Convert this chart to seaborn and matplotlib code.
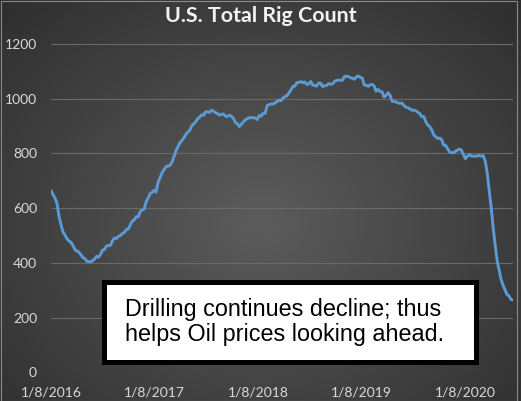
import numpy as np
import pandas as pd
import matplotlib
matplotlib.use("Agg")
import matplotlib.pyplot as plt
import seaborn as sns
from matplotlib.patches import Rectangle

# ---------------- data (weekly U.S. rig count) ----------------
title = "U.S. Total Rig Count"
start_date = "2016-01-08"
rigs_2016 = [664, 650, 637, 619, 571, 541, 514, 502, 489, 480, 476, 464,
             450, 443, 440, 431, 420, 416, 406, 404, 404, 408, 414, 424, 421,
             431, 447, 449, 462, 463, 464, 481, 491, 489, 497, 500, 508, 511, 522,
             524, 539, 553, 557, 569, 568, 588, 593, 597, 624, 637, 653, 658]
rigs_2017 = [665, 659, 694, 712, 729, 741, 751, 754, 756, 768, 789, 809, 824,
             839, 847, 857, 870, 877, 885, 901, 908, 916, 927, 933, 941, 940,
             952, 952, 950, 958, 954, 949, 946, 940, 943, 944, 936, 935, 940,
             936, 928, 913, 909, 898, 907, 915, 923, 927, 931, 930, 931, 929]
rigs_2018 = [924, 939, 936, 947, 946, 975, 978, 980, 981, 984, 990, 995, 993,
             1003, 1008, 1011, 1021, 1032, 1045, 1046, 1059, 1060, 1062, 1059, 1061, 1052,
             1054, 1063, 1050, 1048, 1046, 1057, 1057, 1044, 1048, 1048, 1055, 1053, 1054,
             1063, 1067, 1068, 1067, 1068, 1081, 1082, 1081, 1077, 1075, 1071, 1080, 1083]
rigs_2019 = [1078, 1075, 1050, 1049, 1045, 1051, 1052, 1047, 1027, 1034, 1026, 1025, 1006,
             1012, 1022, 1012, 991, 990, 988, 985, 983, 984, 975, 969, 967, 963,
             958, 958, 956, 950, 946, 934, 935, 916, 904, 898, 886, 868, 861,
             855, 856, 851, 830, 830, 817, 806, 803, 802, 808, 812, 816, 812]
rigs_2020 = [796, 781, 790, 796, 790, 790, 790, 790, 793, 790, 792, 772, 728,
             664, 602, 529, 465, 408, 374, 339, 318, 301, 284, 279, 266, 265]

y_ticks = [0, 200, 400, 600, 800, 1000, 1200]
x_tick_dates = ["2016-01-08", "2017-01-08", "2018-01-08", "2019-01-08", "2020-01-08"]
x_tick_labels = ["1/8/2016", "1/8/2017", "1/8/2018", "1/8/2019", "1/8/2020"]
note_lines = ["Drilling continues decline; thus", "helps Oil prices looking ahead."]

values = rigs_2016 + rigs_2017 + rigs_2018 + rigs_2019 + rigs_2020
dates = pd.date_range(start_date, periods=len(values), freq="7D")
df = pd.DataFrame({"date": dates, "rigs": values})

# ---------------- figure ----------------
sns.set_theme(style="dark")
plt.rcParams["font.family"] = ["Lato", "DejaVu Sans"]

W, H = 521, 401
fig = plt.figure(figsize=(W / 100, H / 100), dpi=100)

# radial gradient background (pixel coordinates)
bg = fig.add_axes([0, 0, 1, 1], zorder=0)
yy, xx = np.mgrid[0:H, 0:W]
r = np.sqrt(((xx - W * 0.5) / (W * 0.5)) ** 2 + ((yy - H * 0.55) / (H * 0.55)) ** 2) / np.sqrt(2)
c0, c1 = 0x5c / 255, 0x2e / 255
g = c0 + (c1 - c0) * np.clip(r, 0, 1)
bg.imshow(np.dstack([g, g, g]), extent=[0, W, H, 0], aspect="auto", interpolation="bilinear")
bg.set_xlim(0, W)
bg.set_ylim(H, 0)
bg.axis("off")

# main plot
ax = fig.add_axes([51 / W, 1 - 372.3 / H, (513 - 51) / W, (372.3 - 44) / H], zorder=1)
ax.patch.set_alpha(0)
sns.lineplot(data=df, x="date", y="rigs", ax=ax, color="#5b9bd5", linewidth=2.1)
ax.set_xlim(dates[0], dates[-1])
ax.set_ylim(0, 1200)
ax.set_yticks(y_ticks)
ax.set_yticklabels([str(v) for v in y_ticks])
ax.set_xticks(pd.to_datetime(x_tick_dates))
ax.set_xticklabels(x_tick_labels)
ax.set_xlabel("")
ax.set_ylabel("")
for s in ax.spines.values():
    s.set_visible(False)
ax.yaxis.grid(True, color="#6a6a6a", linewidth=0.8)
ax.xaxis.grid(False)
ax.tick_params(axis="both", length=0, colors="#d9d9d9", labelsize=10)
ax.tick_params(axis="y", pad=10)
ax.tick_params(axis="x", pad=10)
for lab in ax.get_xticklabels() + ax.get_yticklabels():
    lab.set_color("#d9d9d9")

# title
fig.text(261 / W, 1 - 22 / H, title, ha="center", va="baseline",
         fontsize=15.4, fontweight="bold", color="#f2f2f2")

# overlay for annotation box and border
fg = fig.add_axes([0, 0, 1, 1], zorder=2)
fg.set_xlim(0, W)
fg.set_ylim(H, 0)
fg.axis("off")
fg.patch.set_alpha(0)
fg.add_patch(Rectangle((103.5, 281.5), 372, 80, facecolor="white", edgecolor="black", linewidth=3.6))
fg.text(125, 316, note_lines[0], ha="left", va="baseline", fontsize=16.8,
        family=["Liberation Sans", "DejaVu Sans"], color="black")
fg.text(125, 341, note_lines[1], ha="left", va="baseline", fontsize=16.8,
        family=["Liberation Sans", "DejaVu Sans"], color="black")
fg.add_patch(Rectangle((0.5, 0.5), 516, 400, facecolor="none", edgecolor="#8a8a8a", linewidth=0.8))

fig.savefig("out.png", dpi=100)
